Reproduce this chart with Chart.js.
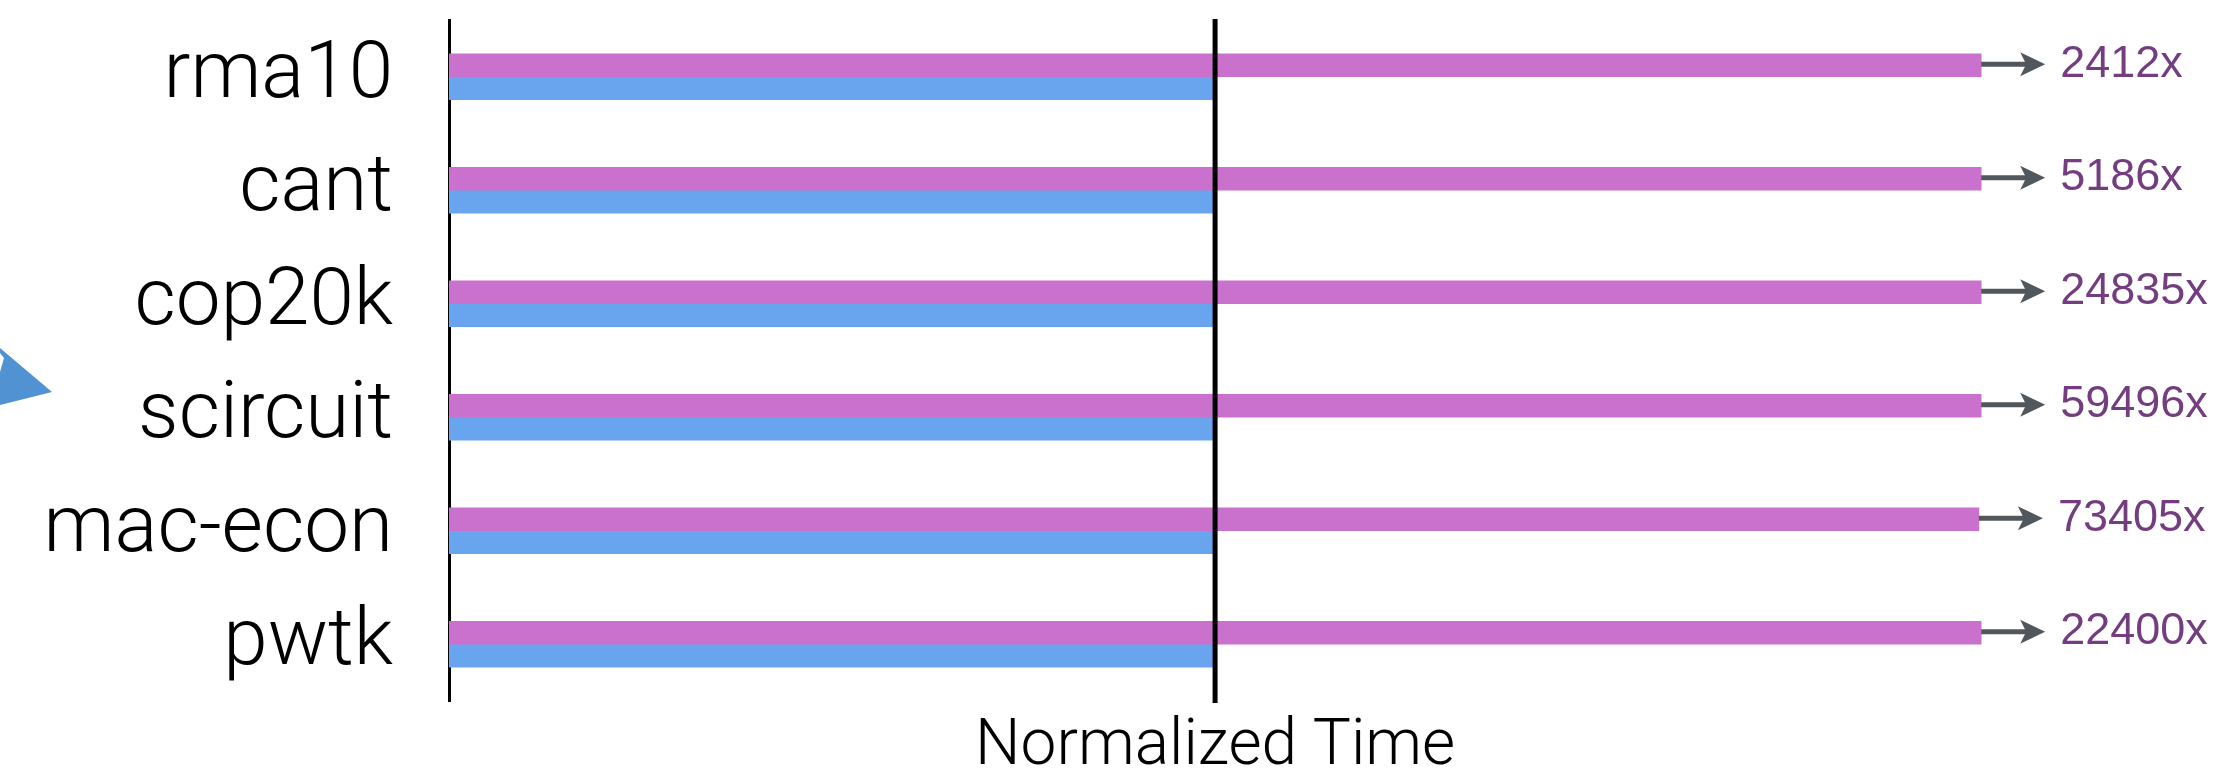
<!DOCTYPE html>
<html>
<head>
<meta charset="utf-8">
<script src="https://cdn.jsdelivr.net/npm/chart.js@4"></script>
<style>
  html, body { margin: 0; padding: 0; background: #fff; }
  canvas { display: block; }
</style>
</head>
<body>
<canvas id="chart" width="2225" height="770"></canvas>
<script>
// matrices on the y axis
const matrices = ['rma10', 'cant', 'cop20k', 'scircuit', 'mac-econ', 'pwtk'];
// normalized time, baseline (blue) = 1, the other one is cut off at ~2
const baseline = [1, 1, 1, 1, 1, 1];
const slower = [2.0, 2.0, 2.0, 2.0, 1.997, 2.0];
// real slowdown written next to the arrow
const slowdown = [2412, 5186, 24835, 59496, 73405, 22400];

const magenta = '#c971cc';
const blue = '#69a5ef';

const extras = {
  id: 'extras',
  afterDatasetsDraw(chart) {
    const ctx = chart.ctx;
    const x = chart.scales.x;
    const area = chart.chartArea;

    // the "1.0" line
    const x1 = x.getPixelForValue(1);
    ctx.save();
    ctx.strokeStyle = '#000';
    ctx.lineWidth = 5;
    ctx.beginPath();
    ctx.moveTo(x1, area.top - 1);
    ctx.lineTo(x1, area.bottom + 2);
    ctx.stroke();

    // arrows + labels past the cut bars
    const bars = chart.getDatasetMeta(0).data;
    bars.forEach((bar, i) => {
      const x0 = bar.x;
      const y = bar.y - 1;
      const tip = x0 + 64;
      ctx.strokeStyle = '#50575d';
      ctx.fillStyle = '#50575d';
      ctx.lineWidth = 5;
      ctx.beginPath();
      ctx.moveTo(x0, y);
      ctx.lineTo(tip - 15, y);
      ctx.stroke();
      ctx.beginPath();
      ctx.moveTo(tip, y);
      ctx.lineTo(tip - 25, y - 12);
      ctx.lineTo(tip - 19, y);
      ctx.lineTo(tip - 25, y + 12);
      ctx.closePath();
      ctx.fill();

      ctx.fillStyle = '#733d80';
      ctx.font = '45px "Liberation Sans", Arial, sans-serif';
      ctx.textAlign = 'left';
      ctx.textBaseline = 'middle';
      ctx.fillText(slowdown[i] + 'x', tip + 15, y);
    });

    // axis title, centred under the 1.0 line
    ctx.fillStyle = '#000';
    ctx.font = '300 64px Roboto, "Liberation Sans", sans-serif';
    ctx.textAlign = 'center';
    ctx.textBaseline = 'alphabetic';
    ctx.fillText('Normalized Time', x1, 764);

    // bit of the slide's blue arrow at the left edge
    ctx.fillStyle = '#5092d2';
    ctx.beginPath();
    ctx.moveTo(0, 348);
    ctx.lineTo(52, 392);
    ctx.lineTo(0, 405);
    ctx.closePath();
    ctx.fill();
    ctx.fillStyle = '#fff';
    ctx.beginPath();
    ctx.moveTo(0, 353);
    ctx.lineTo(4, 358);
    ctx.lineTo(0, 372);
    ctx.closePath();
    ctx.fill();
    ctx.restore();
  }
};

new Chart(document.getElementById('chart').getContext('2d'), {
  type: 'bar',
  data: {
    labels: matrices,
    datasets: [
      { label: 'other', data: slower, backgroundColor: magenta, barThickness: 23 },
      { label: 'ours', data: baseline, backgroundColor: blue, barThickness: 23 }
    ]
  },
  options: {
    indexAxis: 'y',
    responsive: false,
    animation: false,
    devicePixelRatio: 1,
    layout: { padding: { left: 0, top: 20, bottom: 69, right: 14 } },
    plugins: {
      legend: { display: false },
      tooltip: { enabled: false }
    },
    scales: {
      x: { display: false, min: 0, max: 2.3 },
      y: {
        grid: { display: false, drawTicks: false },
        border: { display: true, color: '#000', width: 3 },
        ticks: {
          color: '#000',
          padding: 56,
          font: { family: 'Roboto, "Liberation Sans", sans-serif', size: 80, weight: 300 }
        },
        afterFit(scale) {
          scale.width = 449;
          // big labels would otherwise push the plot area in
          scale.paddingTop = 0;
          scale.paddingBottom = 0;
        }
      }
    }
  },
  plugins: [extras]
});
</script>
</body>
</html>
